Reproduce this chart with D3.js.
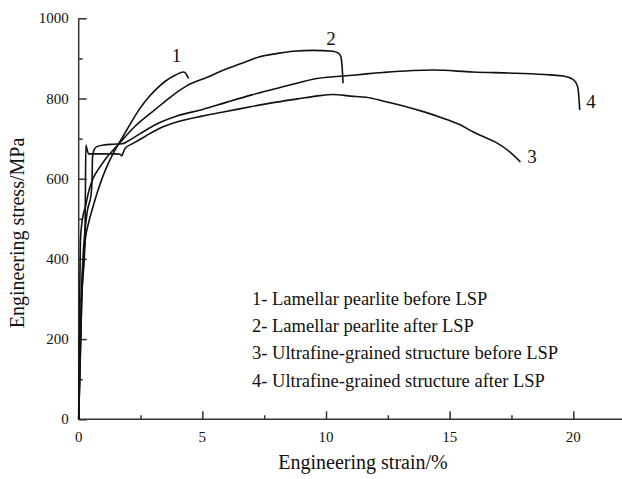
<!DOCTYPE html>
<html>
<head>
<meta charset="utf-8">
<script src="https://cdn.jsdelivr.net/npm/d3@7"></script>
<style>
    body { margin: 0; background: #fff; }
    svg text { font-family: "Liberation Serif", "Times New Roman", serif; fill: #111; }
</style>
</head>
<body>
<div id="chart"></div>
<script>
// Engineering stress-strain curves

const curveNames = ['1', '2', '3', '4'];

const legendLabels = [
    '1- Lamellar pearlite before LSP',
    '2- Lamellar pearlite after LSP',
    '3- Ultrafine-grained structure before LSP',
    '4- Ultrafine-grained structure after LSP'
];

const xTicks = [0, 5, 10, 15, 20];
const yTicks = [0, 200, 400, 600, 800, 1000];

// [strain %, stress MPa]
const lamellarBefore = [
    [0, 0], [0.12, 290], [0.2, 400], [0.27, 450], [0.4, 490], [0.54, 522], [0.8, 575],
    [1.08, 622], [1.4, 664], [1.75, 701], [2.1, 738], [2.43, 771], [2.87, 806],
    [3.2, 827], [3.5, 843], [3.9, 858], [4.24, 866], [4.34, 862], [4.44, 850]
];

const lamellarAfter = [
    [0, 0], [0.04, 300], [0.07, 447], [0.14, 495], [0.27, 530], [0.42, 572], [0.6, 603],
    [0.8, 624], [1.07, 648], [1.67, 690], [2.3, 732], [3.1, 773], [3.7, 803], [4.38, 832],
    [5.2, 853], [5.79, 869], [6.6, 888], [7.32, 904], [8.0, 912], [8.67, 918], [9.5, 920],
    [10.28, 918], [10.5, 913], [10.6, 904], [10.65, 880], [10.69, 838]
];

const ultrafineBefore = [
    [0, 0], [0.12, 300], [0.25, 440], [0.27, 560], [0.29, 684], [0.34, 672], [0.4, 662],
    [0.6, 662], [1.0, 662], [1.5, 662], [1.67, 661], [1.74, 657], [1.8, 665], [1.88, 676],
    [2.2, 688], [2.7, 706], [3.28, 726], [4.0, 742], [4.98, 756], [6.0, 768], [7.0, 780],
    [8.0, 791], [8.94, 800], [9.6, 806], [10.28, 810], [11.0, 806], [11.63, 803],
    [12.3, 794], [12.98, 784], [14.0, 766], [14.73, 751], [15.4, 735], [15.94, 717],
    [16.4, 704], [16.89, 690], [17.43, 667], [17.86, 642]
];

const ultrafineAfter = [
    [0, 0], [0.1, 300], [0.2, 430], [0.35, 520], [0.5, 560], [0.54, 600], [0.56, 655],
    [0.62, 672], [0.73, 680], [1.0, 684], [1.4, 686], [1.75, 687], [2.0, 694], [2.5, 713],
    [3.28, 740], [4.0, 757], [4.98, 772], [6.0, 791], [7.0, 809], [8.0, 825], [8.94, 840],
    [9.47, 848], [10.69, 856], [12.31, 865], [14.33, 871], [15.94, 866], [17.7, 863],
    [19.05, 859], [19.6, 856], [19.92, 850], [20.1, 840], [20.19, 825], [20.26, 771]
];

const allCurves = [lamellarBefore, lamellarAfter, ultrafineBefore, ultrafineAfter];

const width = 622;
const height = 479;
const margin = { left: 78.7, right: 0, top: 18.3, bottom: 59.7 };

const svg = d3.select('#chart')
    .append('svg')
    .attr('width', width)
    .attr('height', height);

const xScale = d3.scaleLinear()
    .domain([0, 22])
    .range([margin.left, margin.left + 22 * 24.73]);

const yScale = d3.scaleLinear()
    .domain([0, 1000])
    .range([height - margin.bottom, margin.top]);

const axisColor = '#333';

// x axis: inward ticks, minor every 2.5
const xAxis = svg.append('g')
    .attr('transform', `translate(0,${yScale(0)})`)
    .call(d3.axisBottom(xScale).tickValues(d3.range(0, 22, 2.5)).tickSize(-4).tickFormat(''));
xAxis.selectAll('.tick')
    .filter(d => d % 5 === 0)
    .select('line')
    .attr('y2', -8);
xAxis.select('.domain').attr('d', `M${xScale(0)},0H${width}`);
xAxis.selectAll('line, path').attr('stroke', axisColor).attr('stroke-width', 1.5);

svg.selectAll('.x-label')
    .data(xTicks)
    .enter()
    .append('text')
    .attr('class', 'x-label')
    .attr('x', d => xScale(d))
    .attr('y', yScale(0) + 23)
    .attr('text-anchor', 'middle')
    .attr('font-size', '15px')
    .text(d => d);

// y axis: inward ticks, minor every 100
const yAxis = svg.append('g')
    .attr('transform', `translate(${xScale(0)},0)`)
    .call(d3.axisLeft(yScale).tickValues(d3.range(0, 1001, 100)).tickSize(-4).tickFormat(''));
yAxis.selectAll('.tick')
    .filter(d => d % 200 === 0)
    .select('line')
    .attr('x2', 8);
yAxis.select('.domain').attr('d', `M0,${yScale(0)}V${yScale(1000)}`);
yAxis.selectAll('line, path').attr('stroke', axisColor).attr('stroke-width', 1.5);

svg.selectAll('.y-label')
    .data(yTicks)
    .enter()
    .append('text')
    .attr('class', 'y-label')
    .attr('x', xScale(0) - 10)
    .attr('y', d => yScale(d) + 5)
    .attr('text-anchor', 'end')
    .attr('font-size', '15px')
    .text(d => d);

// axis titles
svg.append('text')
    .attr('x', 363)
    .attr('y', 469)
    .attr('text-anchor', 'middle')
    .attr('font-size', '20px')
    .text('Engineering strain/%');

svg.append('text')
    .attr('transform', 'translate(24,233) rotate(-90)')
    .attr('text-anchor', 'middle')
    .attr('font-size', '20px')
    .text('Engineering stress/MPa');

// curves
const line = d3.line()
    .x(d => xScale(d[0]))
    .y(d => yScale(d[1]))
    .curve(d3.curveMonotoneX);

svg.selectAll('.curve')
    .data(allCurves)
    .enter()
    .append('path')
    .attr('class', 'curve')
    .attr('d', line)
    .attr('fill', 'none')
    .attr('stroke', '#111')
    .attr('stroke-width', 1.6);

// curve number labels (data coordinates)
const labelSpots = [[3.95, 891], [10.2, 933], [18.33, 639], [20.72, 776]];
svg.selectAll('.curve-label')
    .data(curveNames)
    .enter()
    .append('text')
    .attr('class', 'curve-label')
    .attr('x', (d, i) => xScale(labelSpots[i][0]))
    .attr('y', (d, i) => yScale(labelSpots[i][1]))
    .attr('text-anchor', 'middle')
    .attr('font-size', '19px')
    .text(d => d);

// legend text block
svg.selectAll('.legend')
    .data(legendLabels)
    .enter()
    .append('text')
    .attr('class', 'legend')
    .attr('x', 252)
    .attr('y', (d, i) => 304.5 + i * 27.4)
    .attr('font-size', '18.5px')
    .text(d => d);
</script>
</body>
</html>
